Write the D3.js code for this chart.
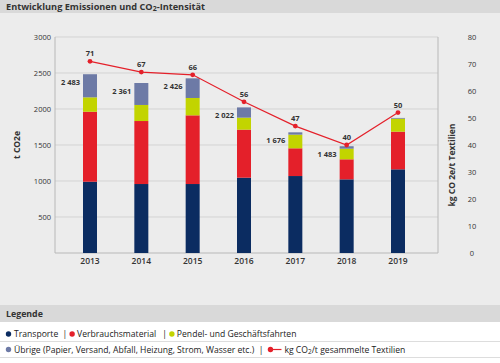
<!DOCTYPE html>
<html>
<head>
<meta charset="utf-8">
<script src="https://cdn.jsdelivr.net/npm/d3@7"></script>
<style>
  body { margin: 0; font-family: "Open Sans", sans-serif; }
  svg { display: block; }
</style>
</head>
<body>
<svg width="500" height="363"></svg>
<script>
// data
var years = ["2013", "2014", "2015", "2016", "2017", "2018", "2019"];
var transporte = [990, 958, 958, 1046, 1069, 1023, 1162];
var verbrauch = [972, 875, 954, 667, 385, 278, 523];
var pendel = [200, 223, 241, 167, 190, 148, 181];
var uebrige = [321, 305, 273, 142, 32, 34, 10];
var totalLabels = ["2 483", "2 361", "2 426", "2 022", "1 676", "1 483", ""];
var intensity = [71, 67, 66, 56, 47, 40, 52];
var intensityLabels = ["71", "67", "66", "56", "47", "40", "50"];
var leftTicks = [500, 1000, 1500, 2000, 2500, 3000];
var rightTicks = [0, 10, 20, 30, 40, 50, 60, 70, 80];

var keys = ["transporte", "verbrauch", "pendel", "uebrige"];
var colors = {transporte: "#0b2c61", verbrauch: "#e4202a", pendel: "#c2d400", uebrige: "#6d7aa6"};
var lineColor = "#e4202a";

var rows = years.map(function (y, i) {
    return {year: y, transporte: transporte[i], verbrauch: verbrauch[i], pendel: pendel[i], uebrige: uebrige[i]};
});

var svg = d3.select("svg");

// background
svg.append("rect").attr("width", 500).attr("height", 305).attr("fill", "#ececec");
svg.append("rect").attr("width", 500).attr("height", 13).attr("fill", "#d9d9d9");
svg.append("text").attr("x", 6).attr("y", 9.5)
    .attr("font-size", 9.2).attr("font-weight", "bold").attr("fill", "#333")
    .html('Entwicklung Emissionen und CO<tspan font-size="7" dy="1.5">2</tspan><tspan dy="-1.5">-Intensität</tspan>');

var plot = {left: 55, right: 438, top: 37, bottom: 253};

var x = d3.scalePoint().domain(years).range([90, 398]);
var y = d3.scaleLinear().domain([0, 3000]).range([plot.bottom, plot.top]);
var y2 = d3.scaleLinear().domain([0, 80]).range([plot.bottom, plot.top]);
var barW = 14;

// grid
svg.append("g").selectAll("line").data(leftTicks).enter().append("line")
    .attr("x1", plot.left).attr("x2", plot.right)
    .attr("y1", function (d) { return y(d); }).attr("y2", function (d) { return y(d); })
    .attr("stroke", "#d3d3d3").attr("stroke-width", 1);

// frame
svg.append("path")
    .attr("d", "M" + plot.left + "," + plot.top + "V" + plot.bottom + "H" + plot.right + "V" + plot.top)
    .attr("fill", "none").attr("stroke", "#b8b8b8").attr("stroke-width", 1);

// left axis labels
svg.append("g").selectAll("text").data(leftTicks).enter().append("text")
    .attr("x", 51).attr("y", function (d) { return y(d) + 3; })
    .attr("text-anchor", "end").attr("font-size", 7.5).attr("fill", "#333")
    .text(function (d) { return d; });

// right axis labels
svg.append("g").selectAll("text").data(rightTicks).enter().append("text")
    .attr("x", 472).attr("y", function (d) { return y2(d) + 3; })
    .attr("text-anchor", "middle").attr("font-size", 7.5).attr("fill", "#333")
    .text(function (d) { return d; });

// axis titles
svg.append("text").attr("transform", "translate(20,145) rotate(-90)")
    .attr("text-anchor", "middle").attr("font-size", 8.5).attr("font-weight", "bold").attr("fill", "#333")
    .text("t CO2e");
svg.append("text").attr("transform", "translate(455,165) rotate(-90)")
    .attr("text-anchor", "middle").attr("font-size", 8.5).attr("font-weight", "bold").attr("fill", "#333")
    .text("kg CO 2e/t Textilien");

// x labels
svg.append("g").selectAll("text").data(years).enter().append("text")
    .attr("x", function (d) { return x(d); }).attr("y", 264)
    .attr("text-anchor", "middle").attr("font-size", 8.5).attr("font-weight", "600").attr("fill", "#333")
    .text(function (d) { return d; });

// stacked bars
var series = d3.stack().keys(keys)(rows);
svg.append("g").selectAll("g").data(series).enter().append("g")
    .attr("fill", function (d) { return colors[d.key]; })
    .selectAll("rect").data(function (d) { return d; }).enter().append("rect")
    .attr("x", function (d) { return x(d.data.year) - barW / 2; })
    .attr("width", barW)
    .attr("y", function (d) { return y(d[1]); })
    .attr("height", function (d) { return y(d[0]) - y(d[1]); });

// total labels
svg.append("g").selectAll("text").data(rows).enter().append("text")
    .attr("x", function (d) { return x(d.year) - barW / 2 - 3; })
    .attr("y", function (d) { return y(d.transporte + d.verbrauch + d.pendel + d.uebrige) + 11; })
    .attr("text-anchor", "end").attr("font-size", 7.5).attr("font-weight", "bold").attr("fill", "#333")
    .text(function (d, i) { return totalLabels[i]; });

// intensity line
var line = d3.line()
    .x(function (d, i) { return x(years[i]); })
    .y(function (d) { return y2(d); });
svg.append("path").datum(intensity).attr("d", line)
    .attr("fill", "none").attr("stroke", lineColor).attr("stroke-width", 1.2);
svg.append("g").selectAll("circle").data(intensity).enter().append("circle")
    .attr("cx", function (d, i) { return x(years[i]); })
    .attr("cy", function (d) { return y2(d); })
    .attr("r", 2.4).attr("fill", lineColor);
svg.append("g").selectAll("text").data(intensity).enter().append("text")
    .attr("x", function (d, i) { return x(years[i]); })
    .attr("y", function (d) { return y2(d) - 5; })
    .attr("text-anchor", "middle").attr("font-size", 7.5).attr("font-weight", "bold").attr("fill", "#333")
    .text(function (d, i) { return intensityLabels[i]; });

// legend
svg.append("rect").attr("y", 305).attr("width", 500).attr("height", 58).attr("fill", "#fff");
svg.append("rect").attr("y", 305).attr("width", 500).attr("height", 17).attr("fill", "#d9d9d9");
svg.append("text").attr("x", 6).attr("y", 317)
    .attr("font-size", 8.8).attr("font-weight", "bold").attr("fill", "#333").text("Legende");
svg.append("line").attr("x1", 0).attr("x2", 500).attr("y1", 341.5).attr("y2", 341.5).attr("stroke", "#ddd");
svg.append("line").attr("x1", 0).attr("x2", 500).attr("y1", 357.5).attr("y2", 357.5).attr("stroke", "#ddd");

var legFont = 8.6;
function dot(cx, cy, c) {
    svg.append("circle").attr("cx", cx).attr("cy", cy).attr("r", 2.7).attr("fill", c);
}
function label(xp, yp, t) {
    return svg.append("text").attr("x", xp).attr("y", yp).attr("font-size", legFont).attr("fill", "#222").text(t);
}
function endOf(sel) { var b = sel.node().getBBox(); return b.x + b.width; }

dot(8.5, 334, colors.transporte);
var t1 = label(14, 337, "Transporte");
var p1 = label(endOf(t1) + 4, 337, "|");
dot(endOf(p1) + 5, 334, colors.verbrauch);
var t2 = label(endOf(p1) + 10, 337, "Verbrauchsmaterial");
var p2 = label(endOf(t2) + 6, 337, "|");
dot(endOf(p2) + 5, 334, colors.pendel);
label(endOf(p2) + 10, 337, "Pendel- und Geschäftsfahrten");

dot(8.5, 349.5, colors.uebrige);
var t4 = label(14, 352.5, "Übrige (Papier, Versand, Abfall, Heizung, Strom, Wasser etc.)");
var p4 = label(endOf(t4) + 4, 352.5, "|");
var lx = endOf(p4) + 5;
svg.append("line").attr("x1", lx).attr("x2", lx + 13).attr("y1", 349.5).attr("y2", 349.5)
    .attr("stroke", lineColor).attr("stroke-width", 1.2);
dot(lx + 2, 349.5, lineColor);
svg.append("text").attr("x", lx + 16).attr("y", 352.5).attr("font-size", legFont).attr("fill", "#222")
    .html('kg CO<tspan font-size="6.5" dy="1">2</tspan><tspan dy="-1">/t gesammelte Textilien</tspan>');
</script>
</body>
</html>
